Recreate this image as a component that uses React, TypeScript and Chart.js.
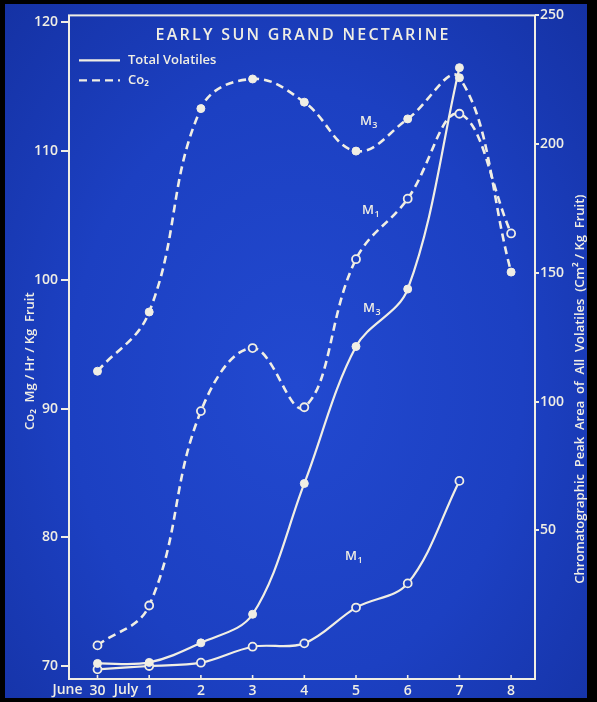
import React, { useEffect, useRef } from "react";
import { Chart, registerables } from "chart.js";
Chart.register(...registerables);

// ---- data ----
const days = [0, 1, 2, 3, 4, 5, 6, 7, 8];
const dayTickLabels = ["30", "1", "2", "3", "4", "5", "6", "7", "8"];
const monthDays = [0, 1];
const monthNames = ["June", "July"];
const co2Ticks = [70, 80, 90, 100, 110, 120];
const volTicks = [50, 100, 150, 200, 250];
const co2M3 = [92.9, 97.5, 113.3, 115.6, 113.8, 110.0, 112.5, 115.7, 100.6];
const co2M1 = [71.6, 74.7, 89.8, 94.7, 90.1, 101.6, 106.3, 112.9, 103.6];
const volM3 = [-1.7, -1.3, 6.3, 17.4, 68.2, 121.4, 143.7, 229.7];
const volM1 = [-4.0, -2.7, -1.4, 4.8, 6.1, 20.0, 29.4, 69.2];
const labelTexts = ["M", "M", "M", "M"];
const labelSubs = ["3", "1", "3", "1"];
const labelX = [5.23, 5.27, 5.29, 4.94];
const labelY = [112.3, 105.4, 136.2, 39.9];
const labelAxis = ["y", "y", "yR", "yR"];
const titleText = "EARLY SUN GRAND NECTARINE";
const legendTexts = ["Total Volatiles", "Co\u2082"];
const leftTitle = "Co\u2082  Mg / Hr / Kg  Fruit";
const rightTitle = "Chromatographic  Peak  Area  of  All  Volatiles  (Cm\u00b2 / Kg  Fruit)";

const WHITE = "#f0eee4";
const BLUE = "#1d42c2";
const FAMILY = "'Open Sans', 'DejaVu Sans', sans-serif";

const overlayPlugin = {
  id: "overlay",
  beforeDatasetsDraw(chart: any) {
    const { ctx, chartArea: a, scales } = chart;
    ctx.save();
    ctx.strokeStyle = WHITE;
    ctx.lineWidth = 2;
    ctx.strokeRect(a.left, a.top, a.right - a.left, a.bottom - a.top);
    // small inward tick marks on the x axis
    ctx.lineWidth = 1.6;
    days.forEach((d) => {
      const px = scales.x.getPixelForValue(d);
      ctx.beginPath();
      ctx.moveTo(px, a.bottom);
      ctx.lineTo(px, a.bottom - 4);
      ctx.stroke();
    });
    ctx.restore();
  },
  afterDraw(chart: any) {
    const { ctx, chartArea: a, scales } = chart;
    ctx.save();
    ctx.fillStyle = WHITE;
    ctx.strokeStyle = WHITE;

    // title with letter spacing
    ctx.font = `600 16px ${FAMILY}`;
    ctx.textBaseline = "middle";
    ctx.textAlign = "left";
    const target = 293;
    const chars = titleText.split("");
    const widths = chars.map((c) => ctx.measureText(c).width);
    const sum = widths.reduce((s, w) => s + w, 0);
    const sp = (target - sum) / (chars.length - 1);
    let tx = (a.left + a.right) / 2 - target / 2;
    chars.forEach((c, i) => {
      ctx.fillText(c, tx, a.top + 20);
      tx += widths[i] + sp;
    });

    // legend
    ctx.lineWidth = 2.4;
    const ly = [a.top + 45, a.top + 65];
    ly.forEach((y, i) => {
      ctx.save();
      if (i === 1) ctx.setLineDash([8, 5]);
      ctx.beginPath();
      ctx.moveTo(a.left + 10, y);
      ctx.lineTo(a.left + 51, y);
      ctx.stroke();
      ctx.restore();
    });
    ctx.font = `600 13px ${FAMILY}`;
    legendTexts.forEach((t, i) => ctx.fillText(t, a.left + 59, ly[i]));

    // month prefixes on the x axis
    ctx.font = `600 14px ${FAMILY}`;
    ctx.textAlign = "right";
    monthDays.forEach((d, i) => {
      const px = scales.x.getPixelForValue(d);
      const w = ctx.measureText(dayTickLabels[days.indexOf(d)]).width;
      ctx.fillText(monthNames[i], px - w / 2 - 7, a.bottom + 11);
    });

    // curve labels
    ctx.textAlign = "left";
    labelTexts.forEach((t, i) => {
      const px = scales.x.getPixelForValue(labelX[i]);
      const py = scales[labelAxis[i]].getPixelForValue(labelY[i]);
      ctx.font = `600 13px ${FAMILY}`;
      const w = ctx.measureText(t).width;
      ctx.fillText(t, px - 8, py);
      ctx.font = `600 9px ${FAMILY}`;
      ctx.fillText(labelSubs[i], px - 8 + w + 0.5, py + 4);
    });

    // axis titles (reading bottom to top)
    ctx.textAlign = "center";
    ctx.font = `600 13px ${FAMILY}`;
    ctx.save();
    ctx.translate(a.left - 39, (a.top + a.bottom) / 2 + 14);
    ctx.rotate(-Math.PI / 2);
    ctx.fillText(leftTitle, 0, 0);
    ctx.restore();
    ctx.font = `600 13px ${FAMILY}`;
    ctx.save();
    ctx.translate(a.right + 45, (a.top + a.bottom) / 2 + 42);
    ctx.rotate(-Math.PI / 2);
    ctx.fillText(rightTitle, 0, 0);
    ctx.restore();

    ctx.restore();
  },
};

function pts(vals: number[]) {
  return vals.map((v, i) => ({ x: days[i], y: v }));
}

export default function App() {
  const ref = useRef<HTMLCanvasElement | null>(null);
  useEffect(() => {
    if (!ref.current) return;
    const tickFont = { family: FAMILY, size: 14, weight: "600" as any };
    const chart = new Chart(ref.current, {
      type: "line",
      data: {
        datasets: [
          {
            label: "Total Volatiles M3",
            data: pts(volM3),
            yAxisID: "yR",
            borderColor: WHITE,
            borderWidth: 2.2,
            tension: 0.35,
            pointRadius: 4,
            pointBackgroundColor: WHITE,
            pointBorderColor: WHITE,
            pointBorderWidth: 1,
          },
          {
            label: "Total Volatiles M1",
            data: pts(volM1),
            yAxisID: "yR",
            borderColor: WHITE,
            borderWidth: 2.2,
            tension: 0.35,
            pointRadius: 4,
            pointBackgroundColor: BLUE,
            pointBorderColor: WHITE,
            pointBorderWidth: 1.8,
          },
          {
            label: "CO2 M3",
            data: pts(co2M3),
            yAxisID: "y",
            borderColor: WHITE,
            borderWidth: 2.6,
            borderDash: [8, 5],
            tension: 0.4,
            pointRadius: 4,
            pointBackgroundColor: WHITE,
            pointBorderColor: WHITE,
            pointBorderWidth: 1,
          },
          {
            label: "CO2 M1",
            data: pts(co2M1),
            yAxisID: "y",
            borderColor: WHITE,
            borderWidth: 2.6,
            borderDash: [8, 5],
            tension: 0.4,
            pointRadius: 4,
            pointBackgroundColor: BLUE,
            pointBorderColor: WHITE,
            pointBorderWidth: 1.8,
          },
        ],
      },
      options: {
        animation: false,
        responsive: false,
        maintainAspectRatio: false,
        layout: { padding: { top: 9, left: 0, right: 0, bottom: 0 } },
        plugins: { legend: { display: false }, title: { display: false }, tooltip: { enabled: false } },
        scales: {
          x: {
            type: "linear",
            position: "bottom",
            min: -0.551,
            max: 8.462,
            afterBuildTicks: (s: any) => {
              s.ticks = days.map((v) => ({ value: v }));
            },
            afterFit: (s: any) => {
              s.height = 19;
            },
            ticks: {
              color: WHITE,
              font: tickFont,
              padding: 4,
              autoSkip: false,
              maxRotation: 0,
              callback: (v: any) => dayTickLabels[days.indexOf(Number(v))] ?? "",
            },
            grid: { display: false, drawTicks: false },
            border: { display: false },
          },
          y: {
            type: "linear",
            position: "left",
            min: 68.99,
            max: 120.54,
            afterBuildTicks: (s: any) => {
              s.ticks = co2Ticks.map((v) => ({ value: v }));
            },
            afterFit: (s: any) => {
              s.width = 64;
            },
            ticks: { color: WHITE, font: tickFont, padding: 3 },
            grid: { display: true, drawOnChartArea: false, drawTicks: true, tickLength: 8, color: WHITE, lineWidth: 2 },
            border: { display: false },
          },
          yR: {
            type: "linear",
            position: "right",
            min: -7.74,
            max: 250,
            afterBuildTicks: (s: any) => {
              s.ticks = volTicks.map((v) => ({ value: v }));
            },
            afterFit: (s: any) => {
              s.width = 52;
            },
            ticks: { color: WHITE, font: tickFont, padding: 1 },
            grid: { display: true, drawOnChartArea: false, drawTicks: true, tickLength: 4, color: WHITE, lineWidth: 2 },
            border: { display: false },
          },
        },
      },
      plugins: [overlayPlugin],
    });
    return () => chart.destroy();
  }, []);

  return (
    <div style={{ position: "absolute", left: 0, top: 0, width: 597, height: 702, background: "#000" }}>
      <div
        style={{
          position: "absolute",
          left: 5,
          top: 4,
          width: 582,
          height: 694,
          background: "radial-gradient(ellipse at 50% 55%, #2249d0 0%, #1c40c2 55%, #1532a4 100%)",
        }}
      >
        <canvas ref={ref} width={582} height={694} style={{ display: "block" }} />
      </div>
    </div>
  );
}
